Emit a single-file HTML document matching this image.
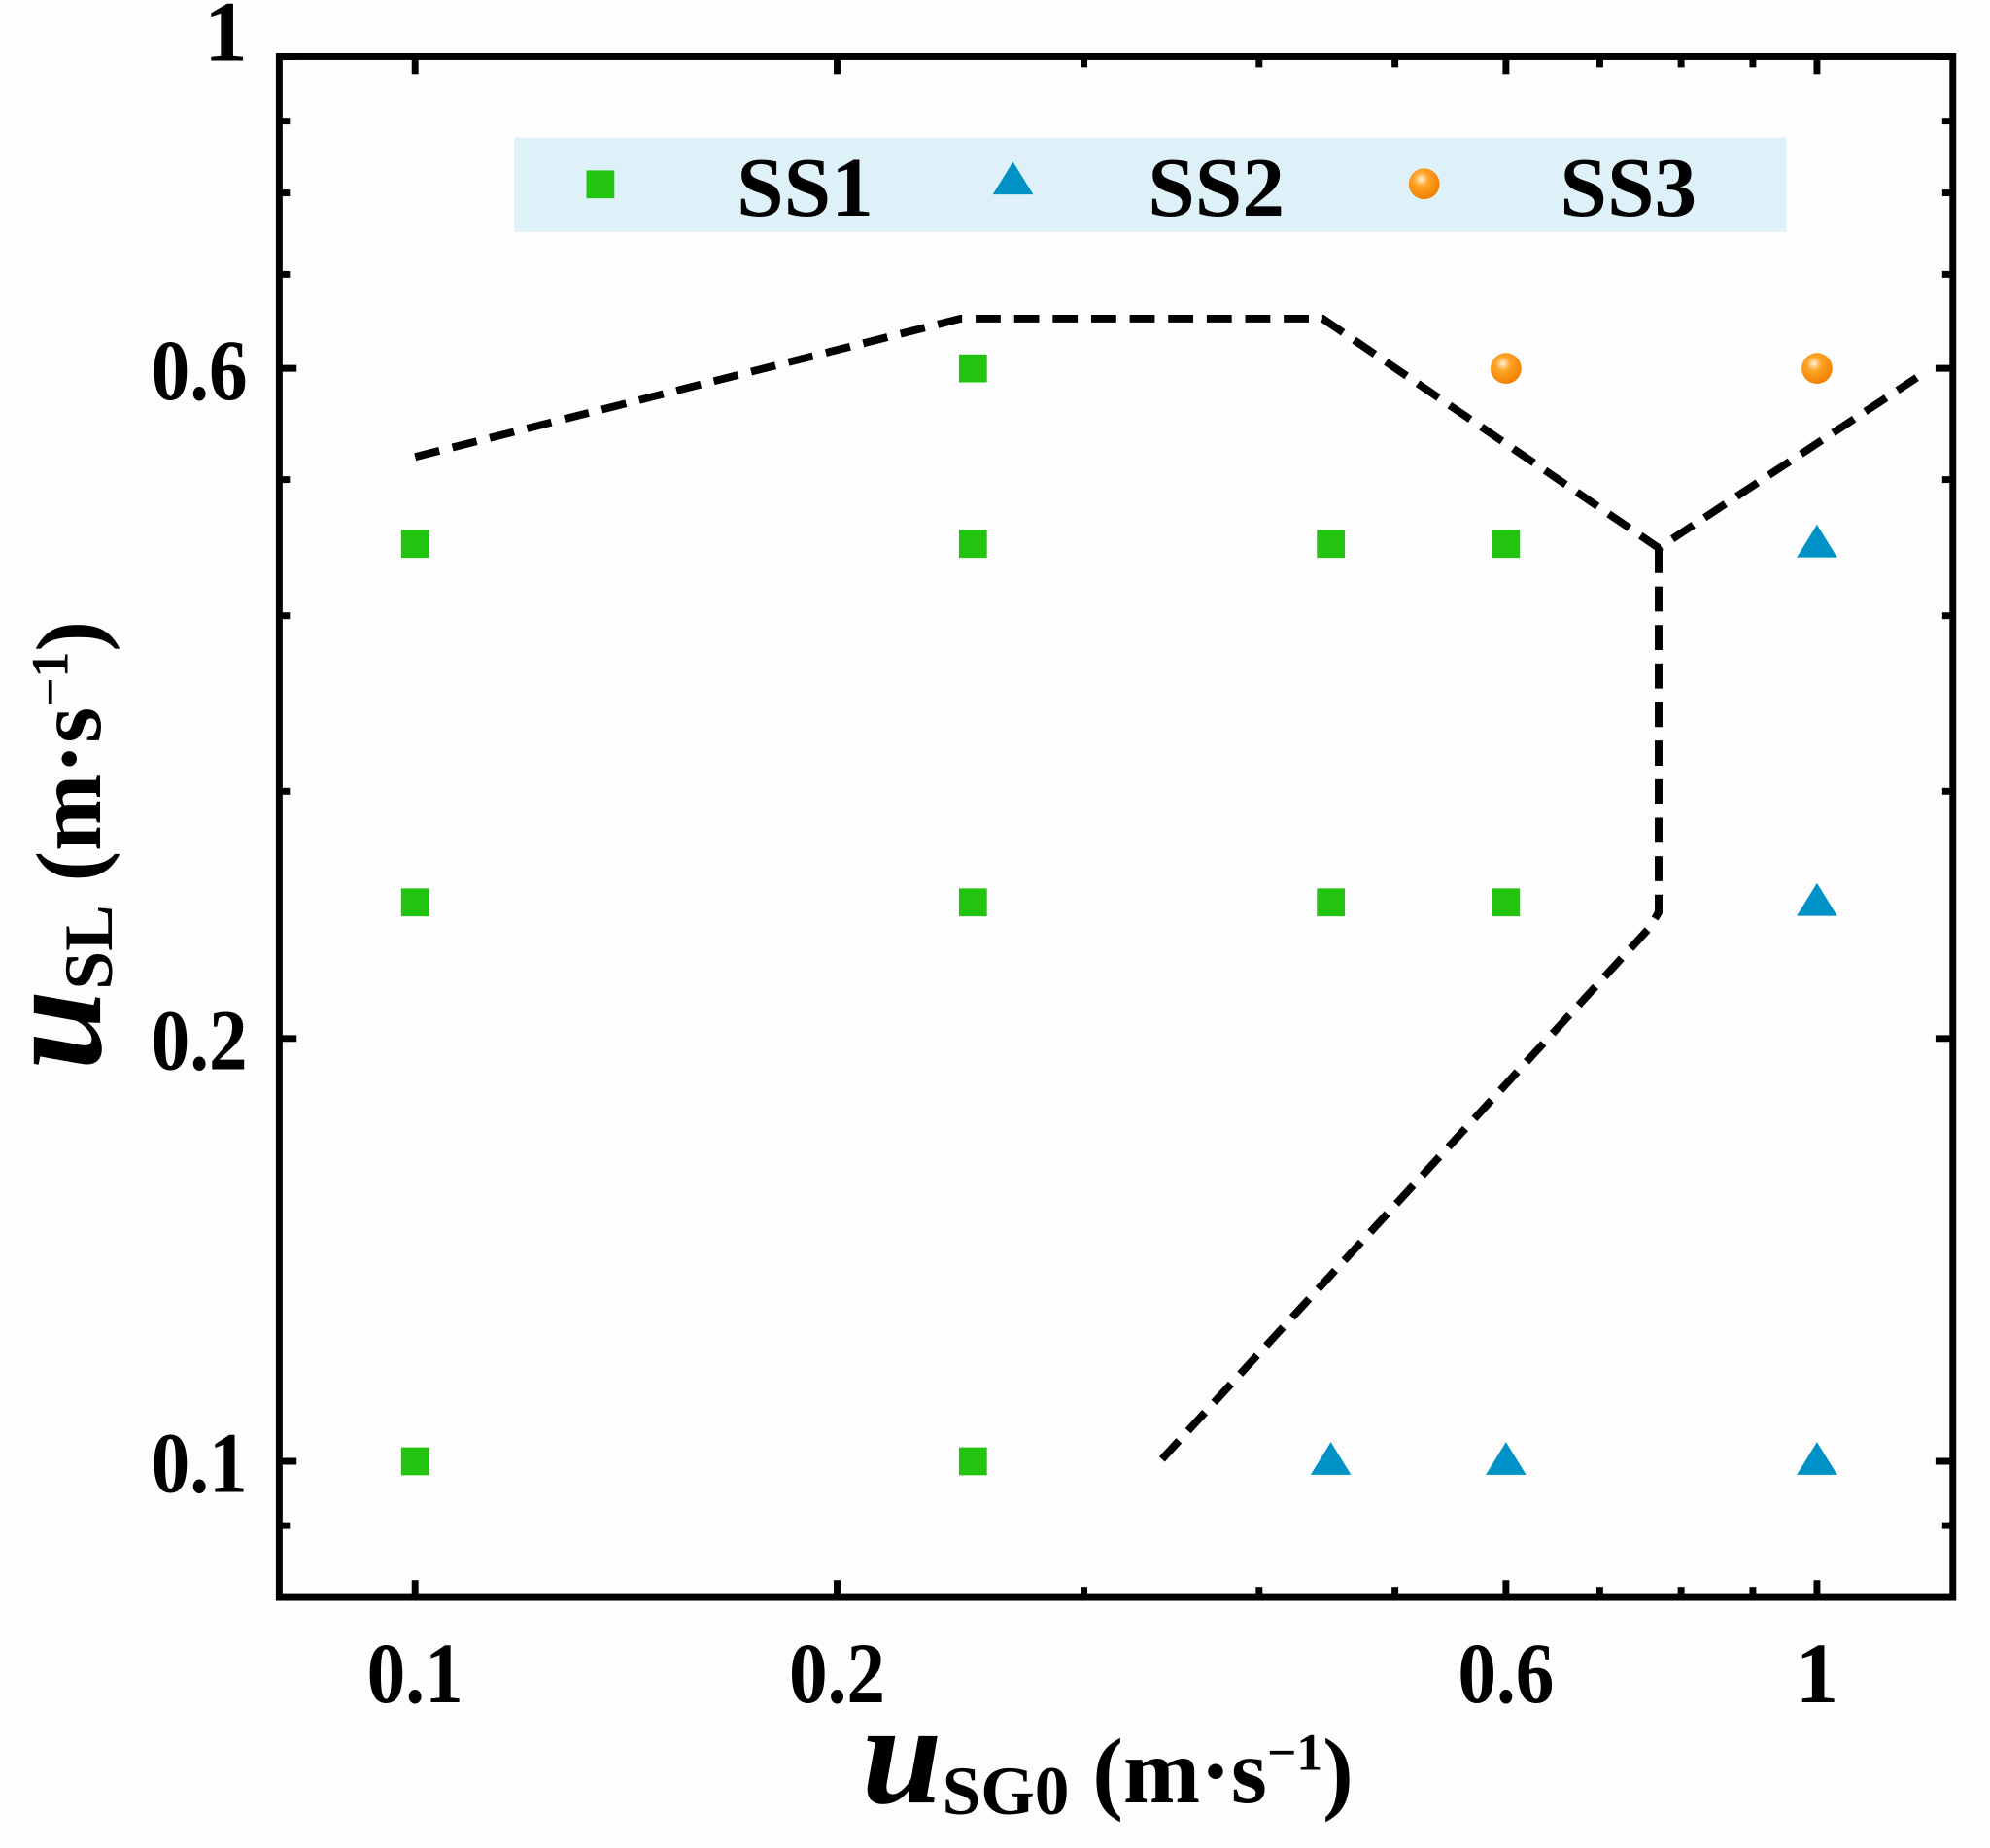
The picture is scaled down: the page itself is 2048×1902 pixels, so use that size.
<!DOCTYPE html>
<html><head><meta charset="utf-8">
<style>
html,body{margin:0;padding:0;background:#fdfdfd;}
svg{display:block;}
svg text{font-family:"Liberation Serif","Times New Roman",serif;}
</style></head>
<body>
<svg id="chart" width="2048" height="1902" viewBox="0 0 2048 1902" xmlns="http://www.w3.org/2000/svg" font-family="Liberation Serif, serif">
<defs>
<radialGradient id="orangeGrad" cx="0.4" cy="0.35" r="0.65">
<stop offset="0" stop-color="#fff3d6"/>
<stop offset="0.35" stop-color="#ffa52a"/>
<stop offset="1" stop-color="#f08000"/>
</radialGradient>
</defs>
<g transform="scale(0.991)">
<rect x="534" y="143" width="1321" height="98" fill="#dff1f8"/>
<g id="marks"></g>
<g id="axes"></g>
<g>
<rect x="609" y="177" width="29" height="29" fill="#22c40f"/>
<text x="765" y="224" font-size="88" font-weight="bold" textLength="142" lengthAdjust="spacingAndGlyphs">SS1</text>
<polygon points="1052,168 1073,202 1031,202" fill="#0092c7"/>
<text x="1192" y="224" font-size="88" font-weight="bold" textLength="142" lengthAdjust="spacingAndGlyphs">SS2</text>
<circle cx="1479" cy="191" r="16" fill="url(#orangeGrad)"/>
<text x="1620" y="224" font-size="88" font-weight="bold" textLength="142" lengthAdjust="spacingAndGlyphs">SS3</text>
</g>
<text x="895" y="1872" font-weight="bold"><tspan font-size="150" font-style="italic">u</tspan><tspan font-size="72" dy="12">SG0</tspan><tspan font-size="96" dy="-12"> (m·s</tspan><tspan font-size="54" dy="-34">−1</tspan><tspan font-size="96" dy="34">)</tspan></text>
<text transform="translate(104,878) rotate(-90)" text-anchor="middle" font-weight="bold"><tspan font-size="150" font-style="italic">u</tspan><tspan font-size="72" dy="12">SL</tspan><tspan font-size="96" dy="-12"> (m·s</tspan><tspan font-size="54" dy="-34">−1</tspan><tspan font-size="96" dy="34">)</tspan></text>
</g>
</svg>
<script>
const ss1X=[0.1,0.1,0.1,0.25,0.25,0.25,0.25,0.45,0.45,0.6,0.6];
const ss1Y=[0.45,0.25,0.1,0.6,0.45,0.25,0.1,0.45,0.25,0.45,0.25];
const ss2X=[0.45,0.6,1,1,1];
const ss2Y=[0.1,0.1,0.1,0.25,0.45];
const ss3X=[0.6,1];
const ss3Y=[0.6,0.6];
const boundUpperX=[0.1,0.245,0.444,0.771,1.178];
const boundUpperY=[0.519,0.651,0.651,0.447,0.591];
const boundLowerX=[0.771,0.771,0.76,0.34];
const boundLowerY=[0.447,0.246,0.24,0.1];
const xMajorTicks=[0.1,0.2,0.6,1];
const xMajorLabels=["0.1","0.2","0.6","1"];
const xMinorTicks=[0.3,0.4,0.5,0.7,0.8,0.9];
const yMajorTicks=[0.1,0.2,0.6,1];
const yMajorLabels=["0.1","0.2","0.6","1"];
const yMinorTicks=[0.09,0.3,0.4,0.5,0.7,0.8,0.9];

const L=290,R=2028,T=59,B=1659;
const xMin=0.08,xMax=1.25,yMin=0.08,yMax=1;
function sx(v){return L+(Math.log10(v)-Math.log10(xMin))/(Math.log10(xMax)-Math.log10(xMin))*(R-L);}
function sy(v){return B-(Math.log10(v)-Math.log10(yMin))/(Math.log10(yMax)-Math.log10(yMin))*(B-T);}
const NS="http://www.w3.org/2000/svg";
const marks=document.getElementById('marks');
const axes=document.getElementById('axes');
function mk(tag,attrs,parent){const e=document.createElementNS(NS,tag);for(const k in attrs)e.setAttribute(k,attrs[k]);parent.appendChild(e);return e;}

function boundary(xs,ys,name){
  let d='';
  for(let i=0;i<xs.length;i++)d+=(i?'L':'M')+sx(xs[i]).toFixed(1)+','+sy(ys[i]).toFixed(1);
  const p=mk('path',{d:d,fill:'none',stroke:'#000','stroke-width':8,'stroke-dasharray':'26,14'},marks);
  
  
}
boundary(boundUpperX,boundUpperY,'upper-boundary-line');
boundary(boundLowerX,boundLowerY,'lower-boundary-line');

for(let i=0;i<ss1X.length;i++){
  const r=mk('rect',{x:sx(ss1X[i])-14.5,y:sy(ss1Y[i])-14.5,width:29,height:29,fill:'#22c40f'},marks);
  
  
}
for(let i=0;i<ss2X.length;i++){
  const cx=sx(ss2X[i]),cy=sy(ss2Y[i]);
  const p=mk('polygon',{points:`${cx},${cy-20} ${cx+21},${cy+14} ${cx-21},${cy+14}`,fill:'#0092c7'},marks);
  
  
}
for(let i=0;i<ss3X.length;i++){
  const c=mk('circle',{cx:sx(ss3X[i]),cy:sy(ss3Y[i]),r:16,fill:'url(#orangeGrad)'},marks);
  
  
}

const frame=mk('rect',{x:L,y:T,width:R-L,height:B-T,fill:'none',stroke:'#000','stroke-width':7},axes);


function tick(x1,y1,x2,y2,name){
  const l=mk('line',{x1:x1,y1:y1,x2:x2,y2:y2,stroke:'#000','stroke-width':7},axes);
  
  
}
xMajorTicks.forEach((v,i)=>{
  const x=sx(v);
  tick(x,B,x,B-18,'x-major-tick');tick(x,T,x,T+18,'x-major-tick-top');
  const t=mk('text',{x:x,y:1768,'font-size':90,'font-weight':'bold','text-anchor':'middle'},axes);
  if(xMajorLabels[i].length>1){t.setAttribute('textLength',100);t.setAttribute('lengthAdjust','spacingAndGlyphs');}
  t.textContent=xMajorLabels[i];
  
  
});
xMinorTicks.forEach(v=>{const x=sx(v);tick(x,B,x,B-11,'x-minor-tick');tick(x,T,x,T+11,'x-minor-tick-top');});
yMajorTicks.forEach((v,i)=>{
  const y=sy(v);
  tick(L,y,L+18,y,'y-major-tick');tick(R,y,R-18,y,'y-major-tick-right');
  const t=mk('text',{x:257,y:y+(v===1?4:32),'font-size':90,'font-weight':'bold','text-anchor':'end'},axes);
  if(yMajorLabels[i].length>1){t.setAttribute('textLength',100);t.setAttribute('lengthAdjust','spacingAndGlyphs');}
  t.textContent=yMajorLabels[i];
  
  
});
yMinorTicks.forEach(v=>{const y=sy(v);tick(L,y,L+11,y,'y-minor-tick');tick(R,y,R-11,y,'y-minor-tick-right');});
</script>
</body></html>
